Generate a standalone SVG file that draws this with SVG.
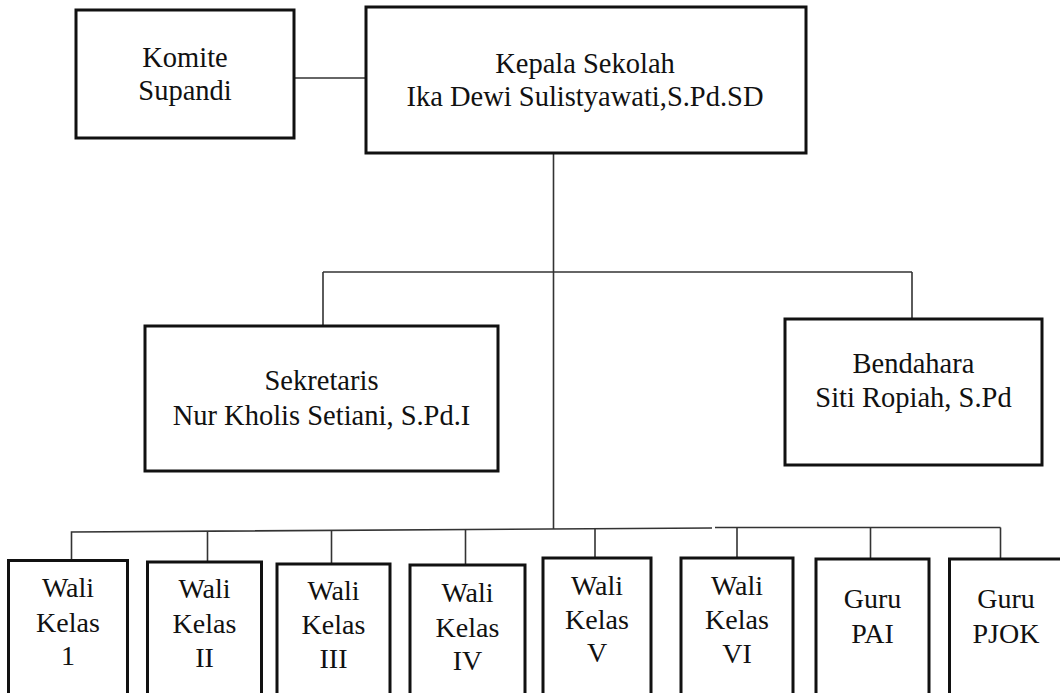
<svg xmlns="http://www.w3.org/2000/svg" width="1060" height="693" viewBox="0 0 1060 693">
<style>
.box{fill:#fff;stroke:#111;stroke-width:3}
.ln{fill:none;stroke:#333;stroke-width:1.6}
text{font-family:"Liberation Serif","Times New Roman",serif;font-size:28.5px;fill:#111;text-anchor:middle}
.s{font-size:28px}
</style>
<rect width="1060" height="693" fill="#fff"/>
<g id="connectors">
<line class="ln" x1="294" y1="78" x2="366" y2="78"/>
<line class="ln" x1="553.5" y1="153" x2="553.5" y2="529"/>
<line class="ln" x1="323" y1="272" x2="912" y2="272"/>
<line class="ln" x1="323" y1="272" x2="323" y2="326"/>
<line class="ln" x1="912" y1="272" x2="912" y2="319"/>
<polyline class="ln" points="71.5,560 71.5,532 712,528"/>
<line class="ln" x1="715" y1="527.5" x2="1000.5" y2="527.5"/>
<line class="ln" x1="1000.5" y1="527.5" x2="1000.5" y2="559"/>
<line class="ln" x1="207.5" y1="531" x2="207.5" y2="562"/>
<line class="ln" x1="331.5" y1="530.5" x2="331.5" y2="564"/>
<line class="ln" x1="465.5" y1="529.5" x2="465.5" y2="565"/>
<line class="ln" x1="595" y1="529" x2="595" y2="558"/>
<line class="ln" x1="737" y1="528" x2="737" y2="558"/>
<line class="ln" x1="870.5" y1="527.5" x2="870.5" y2="559"/>
</g>
<g id="komite">
<rect class="box" x="76" y="10" width="218" height="128"/>
<text x="185" y="67">Komite</text>
<text x="185" y="100">Supandi</text>
</g>
<g id="kepala">
<rect class="box" x="366" y="7" width="440" height="146"/>
<text x="585" y="73">Kepala Sekolah</text>
<text x="585" y="106">Ika Dewi Sulistyawati,S.Pd.SD</text>
</g>
<g id="sekretaris">
<rect class="box" x="145" y="326" width="353" height="145"/>
<text x="321.5" y="390">Sekretaris</text>
<text x="321.5" y="425">Nur Kholis Setiani, S.Pd.I</text>
</g>
<g id="bendahara">
<rect class="box" x="785" y="319" width="257" height="146"/>
<text x="913.5" y="373">Bendahara</text>
<text x="913.5" y="407">Siti Ropiah, S.Pd</text>
</g>
<g id="wali1">
<rect class="box" x="8.5" y="560.5" width="119" height="150"/>
<text class="s" x="68" y="597">Wali</text>
<text class="s" x="68" y="632">Kelas</text>
<text class="s" x="68" y="665">1</text>
</g>
<g id="wali2">
<rect class="box" x="147.5" y="562" width="114" height="150"/>
<text class="s" x="204.5" y="598">Wali</text>
<text class="s" x="204.5" y="633">Kelas</text>
<text class="s" x="204.5" y="667">II</text>
</g>
<g id="wali3">
<rect class="box" x="277" y="564" width="113" height="150"/>
<text class="s" x="333.5" y="600">Wali</text>
<text class="s" x="333.5" y="634">Kelas</text>
<text class="s" x="333.5" y="668">III</text>
</g>
<g id="wali4">
<rect class="box" x="410" y="565" width="115" height="150"/>
<text class="s" x="467.5" y="602">Wali</text>
<text class="s" x="467.5" y="637">Kelas</text>
<text class="s" x="467.5" y="670">IV</text>
</g>
<g id="wali5">
<rect class="box" x="543" y="558" width="108" height="150"/>
<text class="s" x="597" y="595">Wali</text>
<text class="s" x="597" y="629">Kelas</text>
<text class="s" x="597" y="662">V</text>
</g>
<g id="wali6">
<rect class="box" x="681" y="558" width="112" height="150"/>
<text class="s" x="737" y="595">Wali</text>
<text class="s" x="737" y="629">Kelas</text>
<text class="s" x="737" y="663">VI</text>
</g>
<g id="gurupai">
<rect class="box" x="816" y="559" width="113" height="150"/>
<text class="s" x="872.5" y="608">Guru</text>
<text class="s" x="872.5" y="643">PAI</text>
</g>
<g id="gurupjok">
<rect class="box" x="949.5" y="559" width="114" height="150"/>
<text class="s" x="1006" y="608">Guru</text>
<text class="s" x="1006" y="643">PJOK</text>
</g>
</svg>
